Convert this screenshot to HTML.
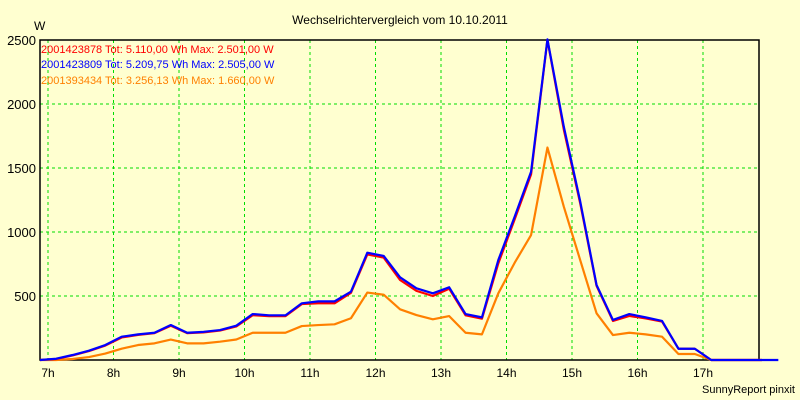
<!DOCTYPE html>
<html><head><meta charset="utf-8"><style>
body{margin:0;background:#ffffd0;}
svg{display:block;font-family:"Liberation Sans",sans-serif;}
</style></head><body>
<svg id="chart" width="800" height="400" xmlns="http://www.w3.org/2000/svg">
<rect x="0" y="0" width="800" height="400" fill="#ffffd0"/>
<text x="400" y="24" text-anchor="middle" font-size="12">Wechselrichtervergleich vom 10.10.2011</text>
<text x="34" y="30" font-size="12">W</text>
<g id="grid"></g><g id="axes"></g><g id="series"></g>
<text x="41" y="53" font-size="11" fill="#ff0000">2001423878 Tot: 5.110,00 Wh Max: 2.501,00 W</text>
<text x="41" y="68" font-size="11" fill="#0000ff">2001423809 Tot: 5.209,75 Wh Max: 2.505,00 W</text>
<text x="41" y="84" font-size="11" fill="#ff8000">2001393434 Tot: 3.256,13 Wh Max: 1.660,00 W</text>
<text x="795" y="393" text-anchor="end" font-size="11">SunnyReport pinxit</text>
</svg>
<script>
const hourLabels=["7h","8h","9h","10h","11h","12h","13h","14h","15h","16h","17h"];
const yTicks=[500,1000,1500,2000,2500];
const times=[7.125,7.375,7.625,7.875,8.125,8.375,8.625,8.875,9.125,9.375,9.625,9.875,10.125,10.375,10.625,10.875,11.125,11.375,11.625,11.875,12.125,12.375,12.625,12.875,13.125,13.375,13.625,13.875,14.125,14.375,14.625,14.875,15.125,15.375,15.625,15.875,16.125,16.375,16.625,16.875,17.125,17.375,17.625,17.875];
const blue=[10,39,73,117,182,200,213,273,213,220,234,268,359,349,349,443,458,458,534,838,813,646,560,521,568,359,333,781,1120,1471,2505,1823,1240,586,313,359,333,305,88,88,0,0,0,0];
const red=[8,36,70,113,176,196,210,268,210,216,230,262,350,343,343,437,443,443,525,825,800,625,540,500,557,349,323,755,1100,1450,2501,1800,1225,580,305,344,325,300,88,88,0,0,0,0];
const orange=[0,8,23,50,88,117,130,160,130,130,143,160,213,213,213,265,273,279,326,527,510,396,351,318,343,213,200,521,760,976,1660,1198,781,365,195,213,200,182,47,47,0,0,0];
const L=40,R=759,T=40,B=360,MAXY=2500;
const xs=t=>48+(t-7)*65.5;
const ys=v=>B-(v/MAXY)*(B-T);
const NS="http://www.w3.org/2000/svg";
function mk(tag,attrs,parent){const e=document.createElementNS(NS,tag);for(const k in attrs)e.setAttribute(k,attrs[k]);parent.appendChild(e);return e;}
const grid=document.getElementById('grid'),axes=document.getElementById('axes'),ser=document.getElementById('series');
hourLabels.forEach((h,i)=>{const x=xs(7+i);
 const g=mk('line',{x1:x,x2:x,y1:T,y2:B,stroke:'#00dd00','stroke-dasharray':'3,3'},grid);
 
 
 const t=mk('text',{x:x,y:B+17,'text-anchor':'middle','font-size':'12'},axes);t.textContent=h;
 
 
});
yTicks.forEach(v=>{const y=ys(v);
 const g=mk('line',{x1:L,x2:R,y1:y,y2:y,stroke:'#00dd00','stroke-dasharray':'3,3'},grid);
 
 
 const t=mk('text',{x:36,y:y+5,'text-anchor':'end','font-size':'13'},axes);t.textContent=v;
 
 
});
const f=mk('rect',{x:L,y:T,width:R-L,height:B-T,fill:'none',stroke:'#000','stroke-width':'1.5'},axes);


function line(arr,color,name,endT){
 let pts=[[L,ys(0)]];arr.forEach((v,i)=>pts.push([xs(times[i]),ys(v)]));pts.push([xs(endT),ys(0)]);
 const p=mk('polyline',{points:pts.map(p=>p.join(',')).join(' '),fill:'none',stroke:color,'stroke-width':'2.2','stroke-linejoin':'round'},ser);
 
 
}
line(orange,'#ff8000','series-2001393434',17.9);
line(red,'#ff0000','series-2001423878',17.9);
line(blue,'#0000ff','series-2001423809',18.15);
</script>
</body></html>
